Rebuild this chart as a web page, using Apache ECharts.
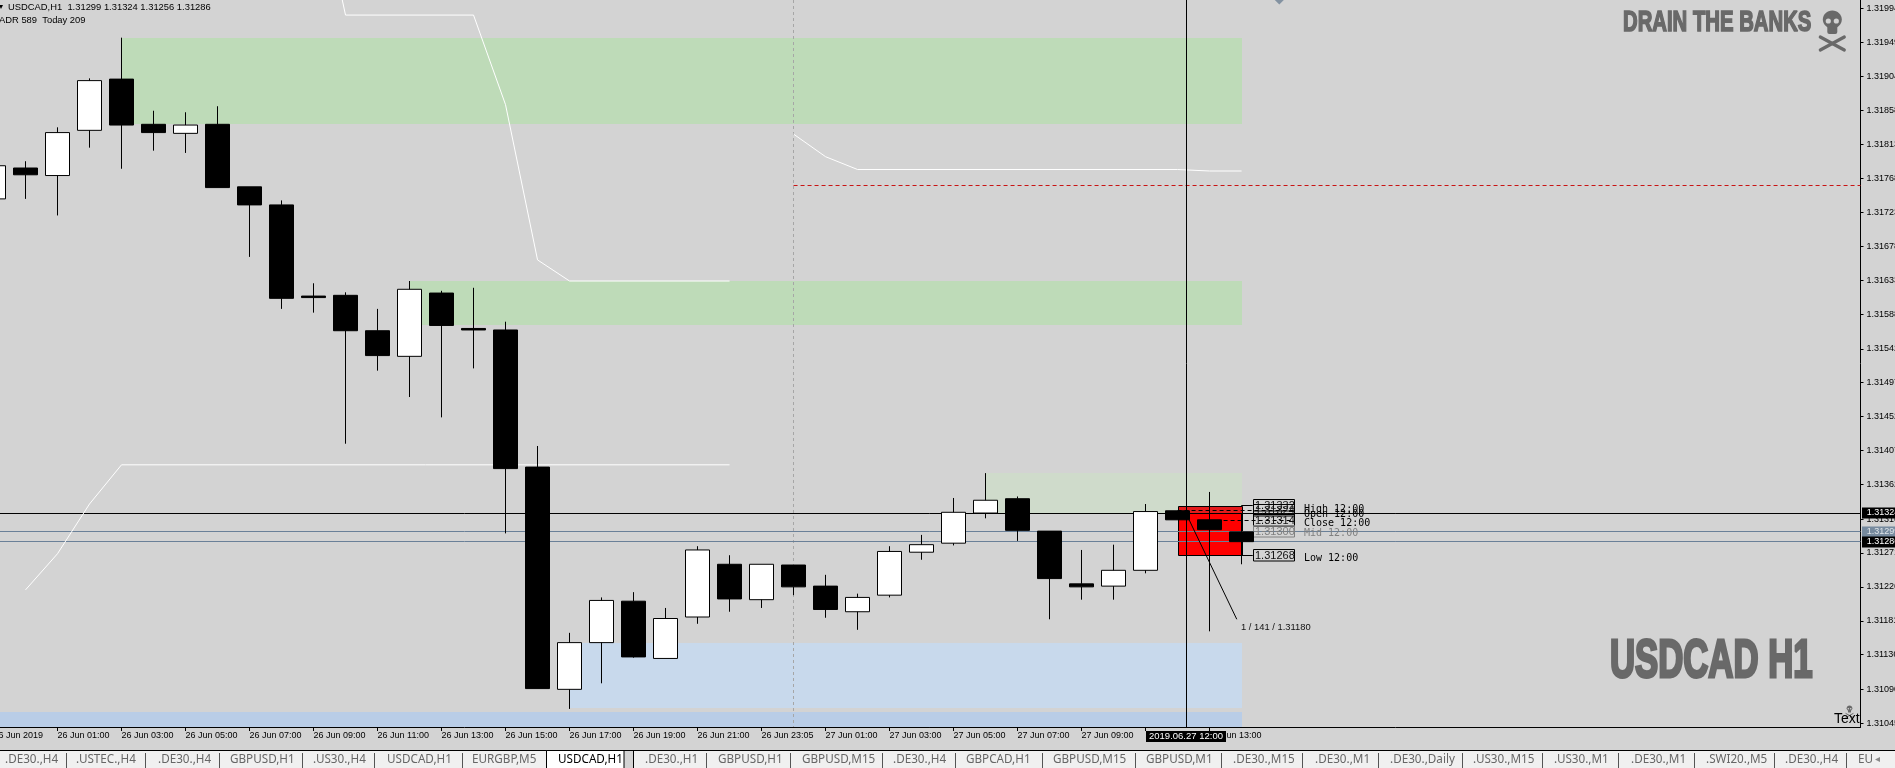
<!DOCTYPE html>
<html><head><meta charset="utf-8">
<style>html,body{margin:0;padding:0;background:#d3d3d3;overflow:hidden}#c{width:1895px;height:768px}</style>
<script src="https://cdn.jsdelivr.net/npm/echarts@6/dist/echarts.min.js"></script>
</head><body><div id="c"></div>
<script>
// ---- data ----
const hours = Array.from({length:40},(_,i)=>i);
const opens  = [1.31741,1.31782,1.31772,1.31832,1.31900,1.31840,1.31828,1.31840,1.31757,1.31733,1.31612,1.31613,1.31566,1.31532,1.31616,1.31569,1.31567,1.31385,1.31090,1.31152,1.31207,1.31131,1.31186,1.31256,1.31209,1.31255,1.31227,1.31193,1.31215,1.31272,1.31284,1.31324,1.31343,1.31300,1.31230,1.31227,1.31248,1.31327,1.31315,1.31299];
const closes = [1.31785,1.31773,1.31829,1.31898,1.31839,1.31829,1.31839,1.31756,1.31733,1.31609,1.31610,1.31566,1.31533,1.31621,1.31573,1.31567,1.31383,1.31091,1.31152,1.31208,1.31133,1.31184,1.31275,1.31210,1.31256,1.31226,1.31196,1.31212,1.31273,1.31282,1.31325,1.31341,1.31301,1.31237,1.31226,1.31248,1.31326,1.31315,1.31302,1.31286];
const lows   = [1.31740,1.31741,1.31719,1.31809,1.31781,1.31805,1.31802,1.31756,1.31664,1.31595,1.31590,1.31416,1.31513,1.31478,1.31451,1.31516,1.31297,1.31091,1.31064,1.31098,1.31132,1.31131,1.31177,1.31193,1.31198,1.31215,1.31185,1.31169,1.31212,1.31262,1.31281,1.31317,1.31287,1.31183,1.31209,1.31209,1.31244,1.31315,1.31167,1.31256];
const highs  = [1.31788,1.31791,1.31836,1.31901,1.31955,1.31858,1.31856,1.31864,1.31757,1.31739,1.31629,1.31617,1.31595,1.31632,1.31619,1.31623,1.31578,1.31413,1.31165,1.31212,1.31219,1.31198,1.31280,1.31268,1.31256,1.31255,1.31242,1.31217,1.31280,1.31295,1.31344,1.31377,1.31346,1.31300,1.31275,1.31282,1.31336,1.31327,1.31352,1.31324];

const priceTicks = [1.31994,1.31949,1.31904,1.31858,1.31813,1.31768,1.31723,1.31678,1.31633,1.31588,1.31542,1.31497,1.31452,1.31407,1.31362,1.31316,1.31271,1.31226,1.31181,1.31136,1.31090,1.31045];
const timeTicks  = [0,2,4,6,8,10,12,14,16,18,20,22,24,26,28,30,32,34,36,38];
const timeLabels = ['26 Jun 2019','26 Jun 01:00','26 Jun 03:00','26 Jun 05:00','26 Jun 07:00','26 Jun 09:00','26 Jun 11:00','26 Jun 13:00','26 Jun 15:00','26 Jun 17:00','26 Jun 19:00','26 Jun 21:00','26 Jun 23:05','27 Jun 01:00','27 Jun 03:00','27 Jun 05:00','27 Jun 07:00','27 Jun 09:00','27 Jun 11:00','27 Jun 13:00'];

const zoneStart  = [4,13,31,18,-1,37,37];
const zoneEnd    = [39,39,39,39,39,39,39];
const zoneTop    = [1.31955,1.31632,1.31377,1.31152,1.31060,1.31334,1.31334];
const zoneBottom = [1.31840,1.31573,1.31324,1.31065,1.31040,1.31268,1.31324];

const stepLowX  = [1,2,3,4,23];
const stepLowP  = [1.31222,1.31270,1.31336,1.31388,1.31388];
const stepHighX = [10,11,15,16,17,18,23];
const stepHighP = [1.32182,1.31985,1.31985,1.31866,1.31660,1.31632,1.31632];
const stepLastX = [25,26,27,37,38,39];
const stepLastP = [1.31827,1.31797,1.31780,1.31780,1.31778,1.31778];

const tagPrices = [1.31324,1.31299,1.31286];
const levelNames  = ['High 12:00','Open 12:00','Close 12:00','Mid 12:00','Low 12:00'];
const levelPrices = [1.31334,1.31327,1.31314,1.31300,1.31268];
const levelLabels = ['1.31332','1.31324','1.31314','1.31300','1.31268'];
const noteLineX = [37.36,38.85];
const noteLineP = [1.31315,1.31183];

const tabLabels = ['.DE30.,H4','.USTEC.,H4','.DE30.,H4','GBPUSD,H1','.US30.,H4','USDCAD,H1','EURGBP,M5','USDCAD,H1','.DE30.,H1','GBPUSD,H1','GBPUSD,M15','.DE30.,H4','GBPCAD,H1','GBPUSD,M15','GBPUSD,M1','.DE30.,M15','.DE30.,M1','.DE30.,Daily','.US30.,M15','.US30.,M1','.DE30.,M1','.SWI20.,M5','.DE30.,H4','EU'];

// ---- layout and style ----
const tabX = [5,76,158,230,313,387,472,558,645,718,802,893,966,1053,1146,1233,1315,1390,1473,1554,1631,1706,1785,1858];
const tabSeps = [66,145,219,302,374,462,706.5,790,882,955,1042,1135,1221,1302.5,1378,1462,1542,1618,1694.5,1774,1846.5];
const zoneColors = ['#bedbb8','#bedbb8','#cfdbcb','#c8d9ec','#b9cde7','#ff0000','#e31b1b'];
const X_MIN=-0.046875, X_MAX=58.34, Y_MIN=1.3104, Y_MAX=1.32005;
const LABEL='"Liberation Sans",Arial,sans-serif';
const crisp=v=>Math.floor(v)+0.5;

const chart = echarts.init(document.getElementById('c'),null,{renderer:'canvas'});

function zoneItem(params,api){
  const i=params.dataIndex;
  const a=api.coord([api.value(0),api.value(2)]), b=api.coord([api.value(1),api.value(3)]);
  const x=Math.round(a[0]),y=Math.round(a[1]),w=Math.round(b[0])-x,h=Math.round(b[1])-y;
  if(i===5) return {type:'rect',shape:{x:x+.5,y:y+.5,width:w,height:h},style:{fill:zoneColors[i],stroke:'#000',lineWidth:1}};
  if(i===6) return {type:'rect',shape:{x:x+1,y:y+1,width:w-1,height:h-1},style:{fill:zoneColors[i]}};
  return {type:'rect',shape:{x,y,width:w,height:h},style:{fill:zoneColors[i]}};
}
function guideItem(params,api){
  const a=api.coord([api.value(0),api.value(2)]), b=api.coord([api.value(1),api.value(3)]);
  const st=guideStyles[params.dataIndex];
  let x1=a[0],y1=a[1],x2=b[0],y2=b[1];
  if(y1===y2){y1=y2=crisp(y1);} if(x1===x2){x1=x2=crisp(x1);}
  return {type:'line',shape:{x1,y1,x2,y2},style:{stroke:st.c,lineWidth:1,lineDash:st.d||null}};
}
const guideData=[
  [24.99,24.99,Y_MAX,Y_MIN],
  [25,X_MAX,1.31759,1.31759],
  [X_MIN,X_MAX,tagPrices[1],tagPrices[1]],
  [X_MIN,X_MAX,tagPrices[2],tagPrices[2]],
  [X_MIN,X_MAX,tagPrices[0],tagPrices[0]]
];
const guideStyles=[{c:'#a6a6a6',d:[3,3]},{c:'#c81414',d:[4,3]},{c:'#6a8098'},{c:'#6a8098'},{c:'#000'}];

function tagItem(params,api){
  const i=params.dataIndex,y=Math.round(api.coord([0,api.value(0)])[1]);
  const cfg=[{b:'#000',t:'#fff'},{b:'#768a9e',t:'#dfe5ea'},{b:'#000',t:'#fff'}][i];
  return {type:'group',children:[
    {type:'rect',shape:{x:1862,y:y-5.5,width:33,height:11},style:{fill:cfg.b}},
    {type:'text',style:{x:1866.7,y:y,text:api.value(0).toFixed(5),fill:cfg.t,font:'9px '+LABEL,textVerticalAlign:'middle'}}
  ]};
}
function levelItem(params,api){
  const i=params.dataIndex, p=api.value(0);
  const y=crisp(api.coord([0,p])[1]);
  const x0=api.coord([i===2?38:37,p])[0], bx=api.coord([39.35,p])[0], bw=41, tx=api.coord([40.95,p])[0];
  const gray=i===3, col=gray?'#808080':'#000';
  const dashed=(i>=1&&i<=3);
  const by=Math.round(y)-6.5;
  return {type:'group',children:[
    {type:'line',shape:{x1:dashed?x0:bx-11.5,y1:y,x2:dashed?bx+bw:bx,y2:y},style:{stroke:col,lineWidth:1,lineDash:dashed?[4,3]:null}},
    {type:'rect',shape:{x:Math.round(bx)+.5,y:by,width:bw,height:11.5},style:{fill:'none',stroke:col,lineWidth:1}},
    {type:'text',style:{x:Math.round(bx)+2,y:by+6.5,text:levelLabels[i],fill:gray?'#808080':'#111',font:'11px '+LABEL,textVerticalAlign:'middle'}},
    {type:'text',style:{x:tx,y:Math.round(y)+[3,3,2,1,2][i],text:levelNames[i],fill:col,font:'10px "DejaVu Sans Mono",monospace',textVerticalAlign:'middle'}}
  ]};
}
const pl=(xs,ps,st)=>({type:'line',z:3,silent:true,showSymbol:false,clip:true,animation:false,
  lineStyle:Object.assign({width:1,color:'#fff'},st||{}),data:xs.map((x,i)=>[x,ps[i]])});

const GREY='#696969';
function skull(cx,cy,s){
  const z=100;
  const bone=(x1,y1,x2,y2)=>({type:'line',z,shape:{x1:cx+x1*s,y1:cy+y1*s,x2:cx+x2*s,y2:cy+y2*s},style:{stroke:GREY,lineWidth:3.2*s,lineCap:'round'}});
  return [
    {type:'ellipse',z,shape:{cx,cy:cy+7.5*s,rx:9.5*s,ry:9*s},style:{fill:GREY}},
    {type:'rect',z,shape:{x:cx-5*s,y:cy+12*s,width:10*s,height:10*s,r:2*s},style:{fill:GREY}},
    {type:'circle',z:101,shape:{cx:cx-4*s,cy:cy+9*s,r:2.6*s},style:{fill:'#d3d3d3'}},
    {type:'circle',z:101,shape:{cx:cx+4*s,cy:cy+9*s,r:2.6*s},style:{fill:'#d3d3d3'}},
    bone(-12,25,12,38), bone(12,25,-12,38)
  ];
}
const txt=(x,y,text,font,fill,extra)=>({type:'text',z:100,x,y,style:Object.assign({text,font,fill,textVerticalAlign:'middle'},extra||{})});
const graphic=[
  {type:'rect',z:90,shape:{x:0,y:750,width:1895,height:18},style:{fill:'#f0f0f0'}},
  {type:'rect',z:90,shape:{x:0,y:750,width:1895,height:1},style:{fill:'#000'}},
  {type:'rect',z:91,shape:{x:624,y:751,width:9.5,height:17},style:{fill:'#d3d3d3'}},
  {type:'rect',z:92,shape:{x:546.5,y:750.5,width:77.5,height:19},style:{fill:'#fff',stroke:'#000',lineWidth:1}},
  {type:'rect',z:92,shape:{x:633,y:750,width:1,height:18},style:{fill:'#000'}},
  {type:'rect',z:100,shape:{x:1146,y:731,width:80,height:11},style:{fill:'#000'}},
  txt(1186,736.7,'2019.06.27 12:00','9.5px '+LABEL,'#fff',{textAlign:'center'}),
  txt(8,7.5,'USDCAD,H1  1.31299 1.31324 1.31256 1.31286','9.4px '+LABEL,'#000'),
  txt(-1,7,'\u25BE','8px '+LABEL,'#000'),
  txt(-1,20,'ADR 589  Today 209','9.4px '+LABEL,'#000'),
  txt(1241,627,'1 / 141 / 1.31180','9.4px '+LABEL,'#111'),
  {type:'text',z:100,x:1623,y:8,scaleX:0.70,style:{text:'DRAIN THE BANKS',font:'bold 29px "Liberation Sans",sans-serif',fill:GREY,stroke:GREY,lineWidth:1.6}},
  ...skull(1832.3,12,1),
  {type:'text',z:100,x:1610,y:636,scaleX:0.655,style:{text:'USDCAD H1',font:'bold 53px "Liberation Sans",sans-serif',fill:GREY,stroke:GREY,lineWidth:3}},
  ...skull(1849.5,706,0.3),
  txt(1834,719,'Text','14px '+LABEL,'#000'),
  txt(1875,759,'\u25C2','10px '+LABEL,'#888')
];
tabLabels.forEach((t,i)=>graphic.push(txt(tabX[i],759.5,t,'11.7px "Noto Sans",sans-serif',i===7?'#000':'#666',{})));
tabSeps.forEach(x=>graphic.push({type:'rect',z:95,shape:{x:Math.floor(x),y:753,width:1,height:15},style:{fill:'#555'}}));

function guideItem2(params,api){
  const a=api.coord([api.value(0),api.value(2)]), b=api.coord([api.value(1),api.value(3)]);
  const x=crisp(a[0]);
  return {type:'line',shape:{x1:x,y1:a[1],x2:x,y2:b[1]},style:{stroke:'#000',lineWidth:1}};
}

chart.setOption({
  animation:false,backgroundColor:'#d3d3d3',tooltip:{show:false},
  grid:{left:-8,right:34.5,top:0,bottom:41,containLabel:false,outerBoundsMode:'none'},
  xAxis:{type:'value',min:X_MIN,max:X_MAX,splitLine:{show:false},
    axisLine:{onZero:false,lineStyle:{color:'#000',width:1}},
    axisTick:{length:4,customValues:timeTicks,lineStyle:{color:'#000'}},
    axisLabel:{customValues:timeTicks,align:'left',margin:4,color:'#000',fontSize:9,fontFamily:LABEL,hideOverlap:false,showMinLabel:true,showMaxLabel:true,
      formatter:v=>timeLabels[timeTicks.indexOf(Math.round(v))]||''}},
  yAxis:{type:'value',position:'right',min:Y_MIN,max:Y_MAX,splitLine:{show:false},
    axisLine:{show:true,onZero:false,lineStyle:{color:'#000',width:1}},
    axisTick:{show:true,length:3,customValues:priceTicks,lineStyle:{color:'#000'}},
    axisLabel:{customValues:priceTicks,margin:6,color:'#000',fontSize:9,fontFamily:LABEL,hideOverlap:false,showMinLabel:true,showMaxLabel:true,
      formatter:v=>v.toFixed(5)}},
  series:[
    {type:'custom',z:1,silent:true,clip:true,renderItem:zoneItem,encode:{x:[0,1],y:[2,3]},
      data:zoneStart.map((s,i)=>[s,zoneEnd[i],zoneTop[i],zoneBottom[i]])},
    {type:'custom',z:2,silent:true,clip:true,renderItem:guideItem,encode:{x:[0,1],y:[2,3]},data:guideData},
    pl(stepLowX,stepLowP), pl(stepHighX,stepHighP), pl(stepLastX,stepLastP),
    pl(noteLineX,noteLineP,{color:'#000'}),
    {type:'custom',z:3,silent:true,renderItem:levelItem,encode:{y:0},data:levelPrices.map(p=>[p])},
    {type:'custom',z:6,silent:true,renderItem:tagItem,encode:{y:0},data:tagPrices.map(p=>[p])},
    {type:'candlestick',z:4,silent:true,clip:true,barWidth:24,encode:{x:0,y:[1,2,3,4]},
      itemStyle:{color:'#fff',color0:'#000',borderColor:'#000',borderColor0:'#000',borderColorDoji:'#000',borderWidth:1},
      data:hours.map(i=>[i,opens[i],closes[i],lows[i],highs[i]])},
    {type:'custom',z:5,silent:true,clip:true,renderItem:guideItem2,encode:{x:[0,1],y:[2,3]},data:[[37.28,37.28,Y_MAX,Y_MIN]]},
    {type:'scatter',z:5,silent:true,clip:true,symbol:'diamond',symbolSize:[9,9],itemStyle:{color:'#6f8295'},data:[[40.18,1.32005]]}
  ],
  graphic:{elements:graphic}
});
</script></body></html>
